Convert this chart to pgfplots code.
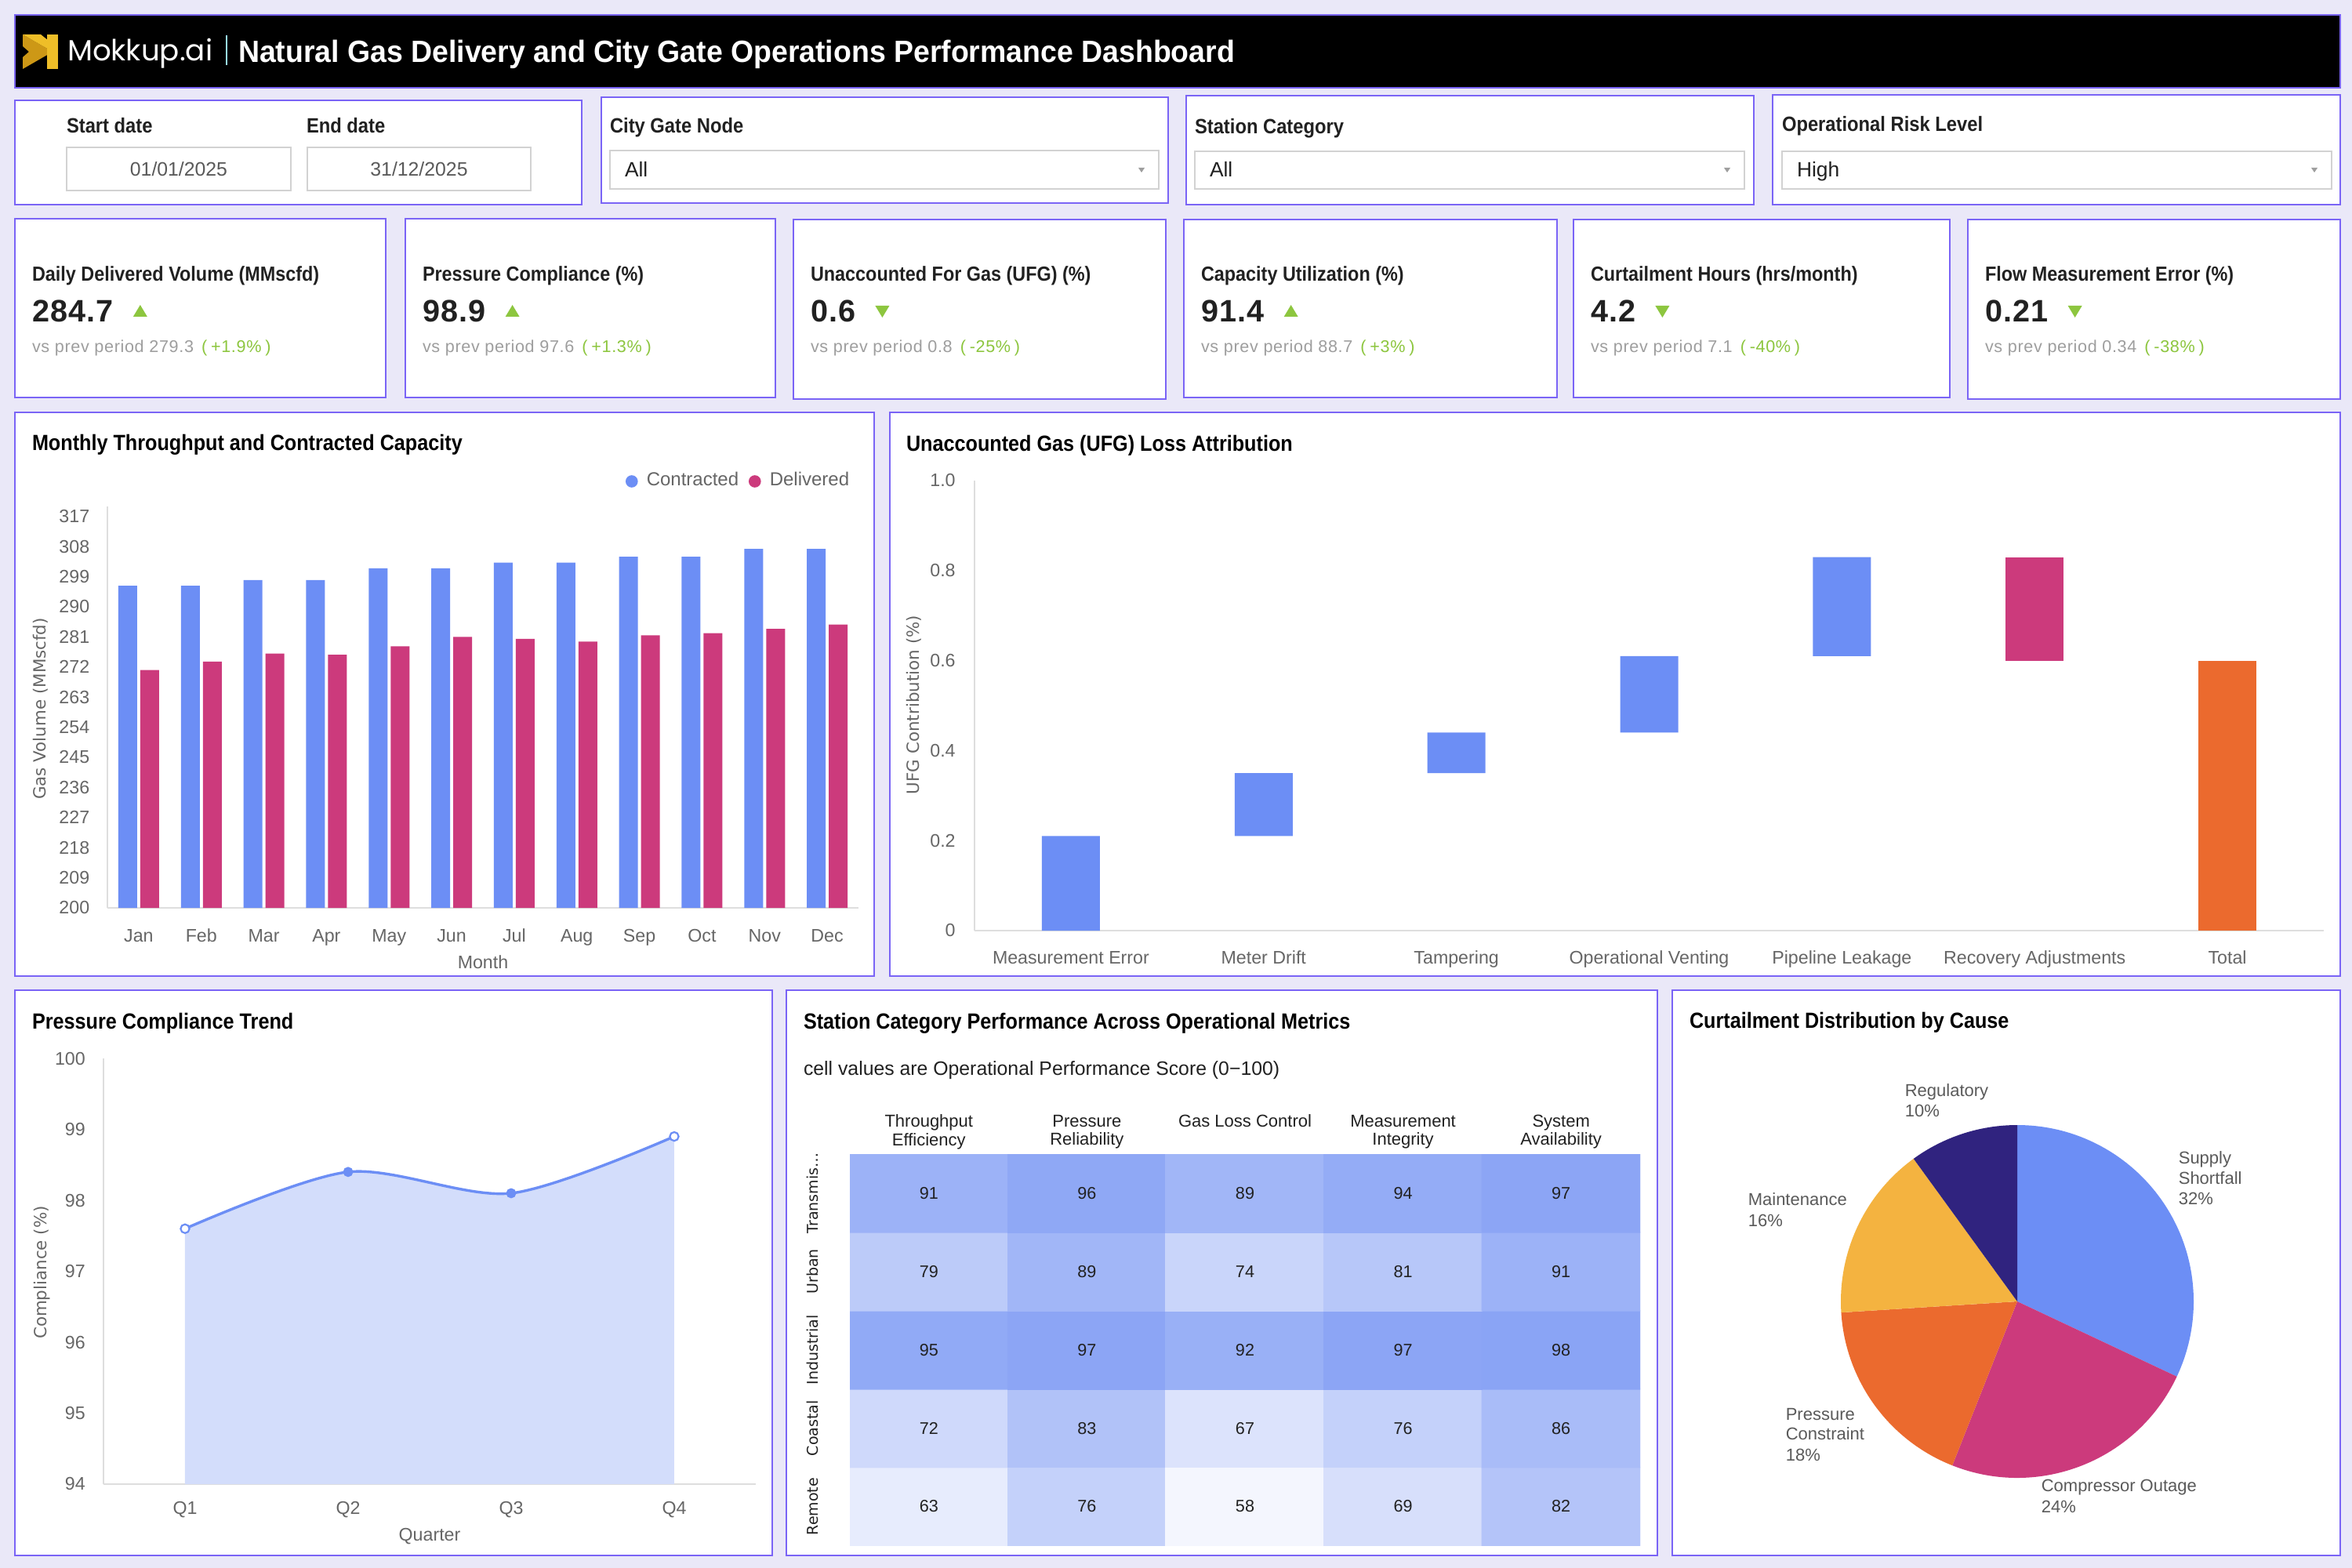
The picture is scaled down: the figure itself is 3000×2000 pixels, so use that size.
\documentclass[border=0pt]{standalone}
\usepackage{fontspec}
\usepackage{pgfplots}
\usepackage{pgfplotstable}
\pgfplotsset{compat=1.18}

\setmainfont{Liberation Sans}
\newfontfamily\medfont{Liberation Sans}[FakeStretch=0.9]
\newfontfamily\hdrfont{Liberation Sans}[FakeStretch=0.955]
\newfontfamily\axfont{DejaVu Sans}
\newfontfamily\logofont{Poppins}

\definecolor{pagebg}{RGB}{234,232,248}
\definecolor{frame}{RGB}{122,100,246}
\definecolor{cblue}{RGB}{108,142,245}
\definecolor{cpink}{RGB}{204,58,124}
\definecolor{corange}{RGB}{235,106,46}
\definecolor{cyellow}{RGB}{244,179,64}
\definecolor{cnavy}{RGB}{48,35,127}
\definecolor{cgreen}{RGB}{141,198,63}
\definecolor{txt}{RGB}{33,33,33}
\definecolor{ticktxt}{RGB}{102,102,102}
\definecolor{labtxt}{RGB}{90,90,90}
\definecolor{subgray}{RGB}{158,158,158}
\definecolor{areafill}{RGB}{211,221,251}
\definecolor{lineg}{RGB}{222,222,222}
\definecolor{boxg}{RGB}{210,210,210}
\definecolor{gold}{RGB}{238,190,40}
\definecolor{golddark}{RGB}{205,152,22}

\newcommand{\fs}[2]{\fontsize{#1}{#2}\selectfont}

% ---------- data ----------
\pgfplotstableread{
i contracted delivered
0  296.3 271.1
1  296.3 273.6
2  298.0 276.0
3  298.0 275.7
4  301.5 278.2
5  301.5 281.0
6  303.2 280.4
7  303.2 279.6
8  305.0 281.5
9  305.0 282.1
10 307.3 283.4
11 307.3 284.7
}\monthly

\pgfplotstableread{
i base rise fall total
0 0    0.21 0    0
1 0.21 0.14 0    0
2 0.35 0.09 0    0
3 0.44 0.17 0    0
4 0.61 0.22 0    0
5 0.60 0    0.23 0
6 0    0    0    0.60
}\ufg

\pgfplotstableread{
q v cls
1 97.6 h
2 98.4 s
3 98.1 s
4 98.9 h
}\compl

% rows: 0 Remote, 1 Coastal, 2 Industrial, 3 Urban, 4 Transmission
\pgfplotstableread{
x y v
0 0 63
1 0 76
2 0 58
3 0 69
4 0 82
0 1 72
1 1 83
2 1 67
3 1 76
4 1 86
0 2 95
1 2 97
2 2 92
3 2 97
4 2 98
0 3 79
1 3 89
2 3 74
3 3 81
4 3 91
0 4 91
1 4 96
2 4 89
3 4 94
4 4 97
}\heat

% ---------- helpers (scope units are pixels) ----------
\newcommand{\panel}[4]{\filldraw[fill=white,draw=frame,line width=0.55pt] (#1,#2) rectangle (#3,#4);}
\newcommand{\dropdown}[5]{%
  \filldraw[fill=white,draw=boxg,line width=0.3pt] (#1,#2) rectangle (#3,#4);
  \draw[boxg,line width=0.7pt] (#1,#2) -- (#3,#2) (#1,#4) -- (#3,#4);
  \node[anchor=base west,text=txt,font=\fs{6.6}{8}] at ({#1+19},226) {#5};
  \fill[subgray] ({#3-26},214) -- ++(8,0) -- ++(-4,6) -- cycle;}
\newcommand{\datebox}[3]{%
  \filldraw[fill=white,draw=boxg,line width=0.3pt] (#1,188) rectangle (#2,243);
  \draw[boxg,line width=0.7pt] (#1,188) -- (#2,188) (#1,243) -- (#2,243);
  \node[anchor=base,text=labtxt,font=\fs{6.2}{8}] at ({(#1+#2)/2},225) {#3};}
% kpi: left, title, value, up(1)/down(0), previous, change
\newcommand{\kpi}[6]{%
  \node[anchor=base west,text=txt,font=\medfont\bfseries\fs{6.5}{8}] at ({#1+22},359) {#2};
  \node[anchor=base west,text=txt,font=\bfseries\fs{9.9}{11}\addfontfeature{LetterSpace=3}] (v) at ({#1+22},411) {#3};
  \ifnum#4=1
    \fill[cgreen] ([xshift=6.25pt,yshift=1.75pt]v.base east) -- ++(18,0) -- ++(-9,-15) -- cycle;
  \else
    \fill[cgreen] ([xshift=6.25pt,yshift=5.25pt]v.base east) -- ++(18,0) -- ++(-9,15) -- cycle;
  \fi
  \node[anchor=base west,font=\fs{5.4}{7}\addfontfeature{LetterSpace=3}] at ({#1+22},450)
    {\textcolor{subgray}{vs prev period #5}\hspace{2.5pt}\textcolor{cgreen}{(\hspace{1.2pt}#6\hspace{1.2pt})}};}

\begin{document}
\begin{tikzpicture}
\begin{scope}[x=0.25pt,y=-0.25pt,every node/.style={inner sep=0pt,outer sep=0pt}]
\fill[pagebg] (0,0) rectangle (3000,2000);

% header
\filldraw[fill=black,draw=frame,line width=0.7pt] (19,19) rectangle (2985,112);
\fill[golddark] (29,44) -- (62,63) -- (62,69) -- (29,88) -- (29,73) -- (37,66) -- (29,59) -- cycle;
\fill[gold] (29,44) -- (52,44) -- (62,52) -- (62,63) -- cycle;
\fill[gold] (60,44) -- (74,44) -- (74,88) -- (60,88) -- cycle;
\node[anchor=base west,text=white,font=\logofont\fs{9.3}{10}] at (86,78) {Mokkup.ai};
\draw[white!60!cyan,line width=0.3pt] (289,45) -- (289,83);
\node[anchor=base west,text=white,font=\hdrfont\bfseries\fs{9.8}{11}] at (304,80)
  {Natural Gas Delivery and City Gate Operations Performance Dashboard};

% filters
\panel{19}{128}{742}{261}
\panel{767}{124}{1490}{259}
\panel{1513}{122}{2237}{261}
\panel{2261}{121}{2985}{261}
\node[anchor=base west,text=txt,font=\medfont\bfseries\fs{6.6}{8}] at (85,170) {Start date};
\node[anchor=base west,text=txt,font=\medfont\bfseries\fs{6.6}{8}] at (391,170) {End date};
\datebox{85}{371}{01/01/2025}
\datebox{392}{677}{31/12/2025}
\node[anchor=base west,text=txt,font=\medfont\bfseries\fs{6.6}{8}] at (778,170) {City Gate Node};
\dropdown{778}{192}{1478}{241}{All}
\node[anchor=base west,text=txt,font=\medfont\bfseries\fs{6.6}{8}] at (1524,171) {Station Category};
\dropdown{1524}{193}{2225}{241}{All}
\node[anchor=base west,text=txt,font=\medfont\bfseries\fs{6.6}{8}] at (2273,168) {Operational Risk Level};
\dropdown{2273}{193}{2974}{241}{High}

% kpi cards
\panel{19}{279}{492}{507}
\panel{517}{279}{989}{507}
\panel{1012}{280}{1487}{509}
\panel{1510}{280}{1986}{507}
\panel{2007}{280}{2487}{507}
\panel{2510}{280}{2985}{509}
\kpi{19}{Daily Delivered Volume (MMscfd)}{284.7}{1}{279.3}{+1.9\%}
\kpi{517}{Pressure Compliance (\%)}{98.9}{1}{97.6}{+1.3\%}
\kpi{1012}{Unaccounted For Gas (UFG) (\%)}{0.6}{0}{0.8}{-25\%}
\kpi{1510}{Capacity Utilization (\%)}{91.4}{1}{88.7}{+3\%}
\kpi{2007}{Curtailment Hours (hrs/month)}{4.2}{0}{7.1}{-40\%}
\kpi{2510}{Flow Measurement Error (\%)}{0.21}{0}{0.34}{-38\%}

% chart panels
\panel{19}{526}{1115}{1245}
\panel{1135}{526}{2985}{1245}
\panel{19}{1263}{985}{1984}
\panel{1003}{1263}{2114}{1984}
\panel{2133}{1263}{2985}{1984}

\node[anchor=base west,text=black,font=\medfont\bfseries\fs{7}{8}] at (41,575) {Monthly Throughput and Contracted Capacity};
\node[anchor=base west,text=black,font=\medfont\bfseries\fs{7}{8}] at (1156,576) {Unaccounted Gas (UFG) Loss Attribution};
\node[anchor=base west,text=black,font=\medfont\bfseries\fs{7}{8}] at (41,1312) {Pressure Compliance Trend};
\node[anchor=base west,text=black,font=\medfont\bfseries\fs{7}{8}] at (1025,1312) {Station Category Performance Across Operational Metrics};
\node[anchor=base west,text=black,font=\medfont\bfseries\fs{7}{8}] at (2155,1311) {Curtailment Distribution by Cause};
\node[anchor=base west,text=txt,font=\fs{6.2}{7}] at (1025,1371) {cell values are Operational Performance Score (0−100)};

% axis titles
\node[rotate=90,text=ticktxt,font=\axfont\fs{5.35}{6}] at (52,904) {Gas Volume (MMscfd)};
\node[text=ticktxt,font=\fs{5.8}{7}] at (616,1227) {Month};
\node[rotate=90,text=ticktxt,font=\axfont\fs{5.35}{6}] at (1166,899) {UFG Contribution (\%)};
\node[rotate=90,text=ticktxt,font=\axfont\fs{5.35}{6}] at (54,1623) {Compliance (\%)};
\node[text=ticktxt,font=\fs{5.8}{7}] at (548,1960) {Quarter};

% pie labels
\begin{scope}[every node/.style={anchor=base west,text=labtxt,font=\fs{5.5}{7},inner sep=0pt}]
\node at (2429,1398) {Regulatory};
\node at (2429,1424) {10\%};
\node at (2778,1484) {Supply};
\node at (2778,1510) {Shortfall};
\node at (2778,1536) {32\%};
\node at (2229,1537) {Maintenance};
\node at (2229,1564) {16\%};
\node at (2277,1811) {Pressure};
\node at (2277,1836) {Constraint};
\node at (2277,1863) {18\%};
\node at (2603,1902) {Compressor Outage};
\node at (2603,1929) {24\%};
\end{scope}
\end{scope}

% ---------- monthly throughput ----------
\begin{axis}[
  at={(34.25pt,-289.5pt)}, anchor=south west, scale only axis,
  width=239.5pt, height=128pt,
  xmin=-0.5, xmax=11.5, ymin=200, ymax=320,
  axis x line*=bottom, axis y line*=left,
  x axis line style={draw=lineg, line width=0.5pt, -},
  y axis line style={draw=lineg, line width=0.3pt, -},
  major tick length=0pt, tick style={draw=none},
  xtick={0,...,11}, xticklabels={Jan,Feb,Mar,Apr,May,Jun,Jul,Aug,Sep,Oct,Nov,Dec},
  ytick={200,209,...,317},
  ticklabel style={font=\fs{5.8}{7}, text=ticktxt, inner sep=0pt},
  xticklabel style={anchor=base}, xticklabel shift=10.9pt,
  yticklabel style={anchor=east}, yticklabel shift=5.5pt,
  /pgf/number format/assume math mode=true,
  legend image code/.code={\fill[#1] (0pt,0pt) circle (1.75pt);},
  legend style={at={(0.9885,1.0625)}, anchor=east, draw=none, fill=none, inner sep=0pt,
    nodes={inner sep=0pt}, font=\fs{6}{7}, text=ticktxt, legend columns=-1,
    /tikz/every odd column/.append style={column sep=2.8pt},
    /tikz/every even column/.append style={column sep=3.2pt}},
]
\addlegendimage{cblue}
\addlegendentry{Contracted}
\addlegendimage{cpink}
\addlegendentry{Delivered}
\addplot[ybar, bar width=6pt, bar shift=-3.5pt, fill=cblue, draw=none, forget plot]
  table[x=i, y=contracted] {\monthly};
\addplot[ybar, bar width=6pt, bar shift=3.5pt, fill=cpink, draw=none, forget plot]
  table[x=i, y=delivered] {\monthly};
\end{axis}

% ---------- UFG waterfall ----------
\begin{axis}[
  at={(310.75pt,-296.75pt)}, anchor=south west, scale only axis,
  width=430.25pt, height=143.5pt,
  xmin=-0.5, xmax=6.5, ymin=0, ymax=1,
  ybar stacked, bar width=18.5pt,
  axis x line*=bottom, axis y line*=left,
  x axis line style={draw=lineg, line width=0.5pt, -},
  y axis line style={draw=lineg, line width=0.3pt, -},
  major tick length=0pt, tick style={draw=none},
  xtick={0,...,6},
  xticklabels={Measurement Error,Meter Drift,Tampering,Operational Venting,Pipeline Leakage,Recovery Adjustments,Total},
  ytick={0,0.2,0.4,0.6,0.8,1.0}, yticklabels={0,0.2,0.4,0.6,0.8,1.0},
  ticklabel style={font=\fs{5.8}{7}, text=ticktxt, inner sep=0pt},
  xticklabel style={anchor=base}, xticklabel shift=10.5pt,
  yticklabel style={anchor=east}, yticklabel shift=5.9pt,
]
\addplot[draw=none, fill=none] table[x=i, y=base] {\ufg};
\addplot[draw=none, fill=cblue] table[x=i, y=rise] {\ufg};
\addplot[draw=none, fill=cpink] table[x=i, y=fall] {\ufg};
\addplot[draw=none, fill=corange] table[x=i, y=total] {\ufg};
\end{axis}

% ---------- pressure compliance ----------
\begin{axis}[
  at={(33pt,-473.25pt)}, anchor=south west, scale only axis,
  width=208pt, height=135.75pt,
  xmin=0.5, xmax=4.5, ymin=94, ymax=100,
  axis x line*=bottom, axis y line*=left,
  x axis line style={draw=lineg, line width=0.5pt, -},
  y axis line style={draw=lineg, line width=0.3pt, -},
  major tick length=0pt, tick style={draw=none},
  xtick={1,2,3,4}, xticklabels={Q1,Q2,Q3,Q4},
  ytick={94,95,...,100},
  ticklabel style={font=\fs{5.8}{7}, text=ticktxt, inner sep=0pt},
  xticklabel style={anchor=base}, xticklabel shift=9.6pt,
  yticklabel style={anchor=east}, yticklabel shift=5.6pt,
  /pgf/number format/assume math mode=true,
]
\addplot[draw=none, fill=areafill, smooth, tension=0.5] table[x=q, y=v] {\compl} \closedcycle;
\addplot[cblue, line width=0.85pt, smooth, tension=0.5] table[x=q, y=v] {\compl};
\addplot[scatter, only marks, mark=*, mark size=1.4pt,
  scatter src=explicit symbolic,
  scatter/classes={h={fill=white, draw=cblue, line width=0.55pt},
                   s={fill=cblue, draw=cblue}}]
  table[x=q, y=v, meta=cls] {\compl};
\end{axis}

% ---------- heatmap ----------
\begin{axis}[
  at={(271pt,-492.875pt)}, anchor=south west, scale only axis,
  width=252pt, height=124.875pt,
  xmin=-0.5, xmax=4.5, ymin=-0.5, ymax=4.5, enlargelimits=false,
  axis line style={draw=none}, tick style={draw=none}, major tick length=0pt,
  xtick={0,...,4},
  xticklabels={{Throughput\\Efficiency},{Pressure\\Reliability},{Gas Loss Control},{Measurement\\Integrity},{System\\Availability}},
  xticklabel pos=upper,
  xticklabel style={align=center, anchor=north, inner sep=0pt, font=\fs{5.5}{5.9}, text=txt},
  xticklabel shift=12.7pt,
  ytick={0,...,4}, yticklabels={Remote,Coastal,Industrial,Urban,{Transmis\ldots}},
  yticklabel style={rotate=90, anchor=south, inner sep=0pt, font=\axfont\fs{4.75}{5}, text=txt},
  yticklabel shift=9.9pt,
  colormap={perf}{rgb255(0cm)=(244,246,254) rgb255(1cm)=(138,164,245)},
  point meta min=58, point meta max=98,
  /pgf/number format/assume math mode=true,
]
\addplot[matrix plot*, mesh/cols=5, point meta=explicit,
  nodes near coords,
  every node near coord/.append style={anchor=center, font=\fs{5.4}{6}, text=txt}]
  table[x=x, y=y, meta=v] {\heat};
\end{axis}

% ---------- curtailment pie ----------
\begin{axis}[
  at={(587pt,-471.25pt)}, anchor=south west, scale only axis,
  width=112.5pt, height=112.5pt,
  xmin=-1, xmax=1, ymin=-1, ymax=1, hide axis, clip=false,
]
% shares (%): Supply Shortfall 32, Compressor Outage 24, Pressure Constraint 18, Maintenance 16, Regulatory 10
\fill[cblue]   (axis cs:0,0) -- (axis cs:{cos(90)},{sin(90)}) arc[start angle=90, end angle={90-3.6*32}, radius=56.25pt] -- cycle;
\fill[cpink]   (axis cs:0,0) -- (axis cs:{cos(90-3.6*32)},{sin(90-3.6*32)}) arc[start angle={90-3.6*32}, end angle={90-3.6*56}, radius=56.25pt] -- cycle;
\fill[corange] (axis cs:0,0) -- (axis cs:{cos(90-3.6*56)},{sin(90-3.6*56)}) arc[start angle={90-3.6*56}, end angle={90-3.6*74}, radius=56.25pt] -- cycle;
\fill[cyellow] (axis cs:0,0) -- (axis cs:{cos(90-3.6*74)},{sin(90-3.6*74)}) arc[start angle={90-3.6*74}, end angle={90-3.6*90}, radius=56.25pt] -- cycle;
\fill[cnavy]   (axis cs:0,0) -- (axis cs:{cos(90-3.6*90)},{sin(90-3.6*90)}) arc[start angle={90-3.6*90}, end angle={90-3.6*100}, radius=56.25pt] -- cycle;
\end{axis}
\end{tikzpicture}
\end{document}
